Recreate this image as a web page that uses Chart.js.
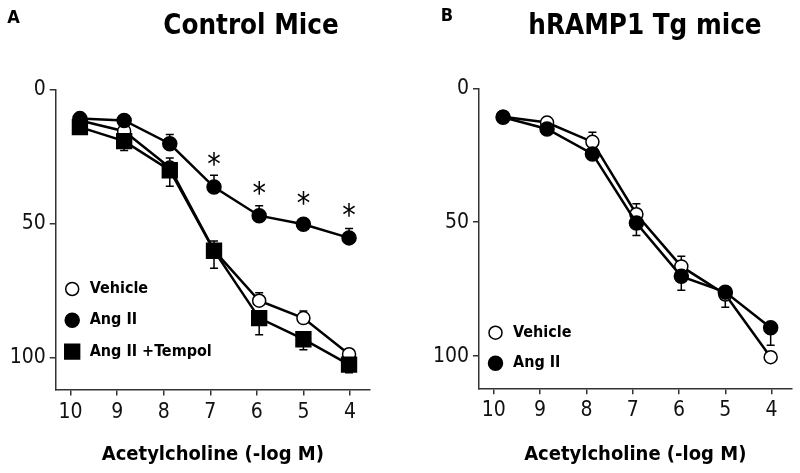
<!DOCTYPE html>
<html>
<head>
<meta charset="utf-8">
<script src="https://cdn.jsdelivr.net/npm/chart.js@4.4.0/dist/chart.umd.min.js"></script>
<style>
  body { margin: 0; background: #fff; width: 800px; height: 473px; position: relative; overflow: hidden; }
  .panel { position: absolute; top: 0; width: 400px; height: 473px; }
  .txt { position: absolute; font-family: "DejaVu Sans Condensed", "DejaVu Sans", sans-serif; font-weight: bold; color: #000; white-space: nowrap; transform: translate(-50%, -50%); }
</style>
</head>
<body>
<div class="panel" style="left:0"><canvas id="chartA" width="400" height="473"></canvas></div>
<div class="panel" style="left:400px"><canvas id="chartB" width="400" height="473"></canvas></div>
<div class="txt" style="left:13.5px; top:15.5px; font-size:18px">A</div>
<div class="txt" style="left:251px; top:24px; font-size:27.5px">Control Mice</div>
<div class="txt" style="left:447px; top:14px; font-size:18px">B</div>
<div class="txt" style="left:645px; top:24px; font-size:27.5px">hRAMP1 Tg mice</div>
<script>
// acetylcholine doses (-log M), same for both panels
const doses = [9.8, 8.85, 7.87, 6.92, 5.95, 5.0, 4.02];
const xTicks = [10, 9, 8, 7, 6, 5, 4];
const yTicks = [0, 50, 100];

// panel A - control mice
const ctrlVehicle = [11.4, 15.4, 29.0, 60.0, 78.8, 85.3, 98.8];
const ctrlAngII = [10.7, 11.4, 20.1, 36.3, 47.0, 50.2, 55.3];
const ctrlTempol = [13.9, 19.1, 30.0, 60.1, 85.3, 93.2, 102.7];
// error bars as [toward 0, toward 100]
const ctrlVehicleErr = [[0, 0], [0, 0], [0, 0], [0, 0], [3, 0], [2.7, 0], [2, 0]];
const ctrlAngIIErr = [[0, 0], [0, 0], [3.5, 0], [4.4, 0], [3.7, 0], [2, 0], [3.5, 0]];
const ctrlTempolErr = [[0, 0], [0, 3.5], [4.6, 6], [3.6, 6.6], [0, 6.2], [0, 3.9], [0, 3]];
const ctrlStars = [null, null, null, 25.7, 36.9, 40.6, 45];

// panel B - hRAMP1 transgenic mice
const tgVehicle = [10.6, 12.8, 20.0, 47.0, 66.5, 77.0, 100.4];
const tgAngII = [10.8, 15.2, 24.5, 50.3, 70.2, 76.1, 89.4];
const tgVehicleErr = [[0, 0], [1.9, 0], [3.6, 0], [3.9, 0], [3.8, 0], [0, 4.7], [0, 0]];
const tgAngIIErr = [[0, 0], [0, 0], [0, 0], [0, 4.7], [0, 5.2], [0, 0], [0, 6.5]];

const FONT = "DejaVu Sans Condensed";
const AXIS = "#333";

const styles = {
  vehicle: { label: "Vehicle", pointStyle: "circle", radius: 6.5, bg: "#fff" },
  angII: { label: "Ang II", pointStyle: "circle", radius: 7, bg: "#000" },
  tempol: { label: "Ang II +Tempol", pointStyle: "rect", radius: 10.5, bg: "#000" }
};

function makeSet(style, values, errs, order) {
  return {
    label: style.label,
    data: doses.map((d, i) => ({ x: d, y: values[i] })),
    errors: errs,
    borderColor: "#000",
    borderWidth: 2.5,
    backgroundColor: style.bg,
    pointStyle: style.pointStyle,
    pointRadius: style.radius,
    pointBackgroundColor: style.bg,
    pointBorderColor: "#000",
    pointBorderWidth: 1.5,
    tension: 0,
    order: order
  };
}

const errorBars = {
  id: "errorBars",
  beforeDatasetsDraw(chart) {
    const ctx = chart.ctx;
    const ys = chart.scales.y, xs = chart.scales.x;
    ctx.save();
    ctx.strokeStyle = "#000";
    ctx.lineWidth = 1.5;
    chart.data.datasets.forEach(ds => {
      ds.data.forEach((p, i) => {
        const e = ds.errors[i];
        const px = xs.getPixelForValue(p.x);
        [p.y - e[0], p.y + e[1]].forEach((v, k) => {
          if (e[k] === 0) return;
          const py0 = ys.getPixelForValue(p.y), py1 = ys.getPixelForValue(v);
          ctx.beginPath();
          ctx.moveTo(px, py0); ctx.lineTo(px, py1);
          ctx.moveTo(px - 4, py1); ctx.lineTo(px + 4, py1);
          ctx.stroke();
        });
      });
    });
    ctx.restore();
  }
};

const extras = {
  id: "extras",
  afterDatasetsDraw(chart, args, opts) {
    const ctx = chart.ctx;
    const ys = chart.scales.y, xs = chart.scales.x;
    const area = chart.chartArea;
    ctx.save();
    // significance stars
    if (opts.stars) {
      ctx.fillStyle = "#000";
      ctx.font = "30px " + FONT;
      ctx.textAlign = "center";
      ctx.textBaseline = "middle";
      opts.stars.forEach((s, i) => {
        if (s === null) return;
        ctx.fillText("*", xs.getPixelForValue(doses[i]), ys.getPixelForValue(s) + 7);
      });
    }
    // legend inside the plot
    chart.data.datasets.slice().reverse().forEach((ds, k) => {
      const y = opts.legendTop + k * opts.legendGap;
      const mx = area.left + 16.5;
      ctx.fillStyle = ds.pointBackgroundColor;
      ctx.strokeStyle = "#000";
      ctx.lineWidth = 1.5;
      Chart.helpers.drawPoint(ctx, { pointStyle: ds.pointStyle, radius: ds.pointRadius, borderWidth: 1.5 }, mx, y);
      ctx.fillStyle = "#000";
      ctx.font = "bold 16px " + FONT;
      ctx.textAlign = "left";
      ctx.textBaseline = "middle";
      ctx.fillText(ds.label, area.left + 34, y);
    });
    ctx.restore();
  }
};

function makeChart(id, datasets, cfg) {
  return new Chart(document.getElementById(id), {
    type: "line",
    data: { datasets: datasets },
    plugins: [errorBars, extras],
    options: {
      responsive: false,
      animation: false,
      layout: { padding: { top: cfg.top, right: cfg.right, left: 0, bottom: 0 } },
      plugins: {
        legend: { display: false },
        tooltip: { enabled: false },
        extras: { stars: cfg.stars, legendTop: cfg.legendTop, legendGap: cfg.legendGap }
      },
      scales: {
        x: {
          type: "linear",
          reverse: true,
          min: 3.57,
          max: 10.32,
          afterBuildTicks: s => { s.ticks = xTicks.map(v => ({ value: v })); },
          afterFit: s => { s.height = cfg.xHeight; },
          grid: { display: true, drawOnChartArea: false, drawTicks: true, tickLength: 6, color: AXIS, lineWidth: 1.5 },
          border: { display: true, color: AXIS, width: 1.5 },
          ticks: { color: "#111", font: { family: FONT, size: 21 }, padding: 4, autoSkip: false, maxRotation: 0 },
          title: { display: true, text: "Acetylcholine (-log M)", color: "#000", font: { family: FONT, size: 20, weight: "bold" }, padding: { top: 0, bottom: 6 } }
        },
        y: {
          type: "linear",
          reverse: true,
          min: 0,
          max: 112,
          afterBuildTicks: s => { s.ticks = yTicks.map(v => ({ value: v })); },
          afterFit: s => { s.width = cfg.yWidth; },
          grid: { display: true, drawOnChartArea: false, drawTicks: true, tickLength: 6, color: AXIS, lineWidth: 1.5 },
          border: { display: true, color: AXIS, width: 1.5 },
          ticks: { color: "#111", font: { family: FONT, size: 21 }, padding: 4 }
        }
      }
    }
  });
}

makeChart("chartA", [
  makeSet(styles.tempol, ctrlTempol, ctrlTempolErr, 0),
  makeSet(styles.angII, ctrlAngII, ctrlAngIIErr, 1),
  makeSet(styles.vehicle, ctrlVehicle, ctrlVehicleErr, 2)
], { top: 90, right: 30, xHeight: 83.5, yWidth: 55.7, stars: ctrlStars, legendTop: 289, legendGap: 31.3 });

makeChart("chartB", [
  makeSet(styles.angII, tgAngII, tgAngIIErr, 0),
  makeSet(styles.vehicle, tgVehicle, tgVehicleErr, 1)
], { top: 88.3, right: 7, xHeight: 84.7, yWidth: 79, stars: null, legendTop: 332.7, legendGap: 30.6 });
</script>
</body>
</html>
